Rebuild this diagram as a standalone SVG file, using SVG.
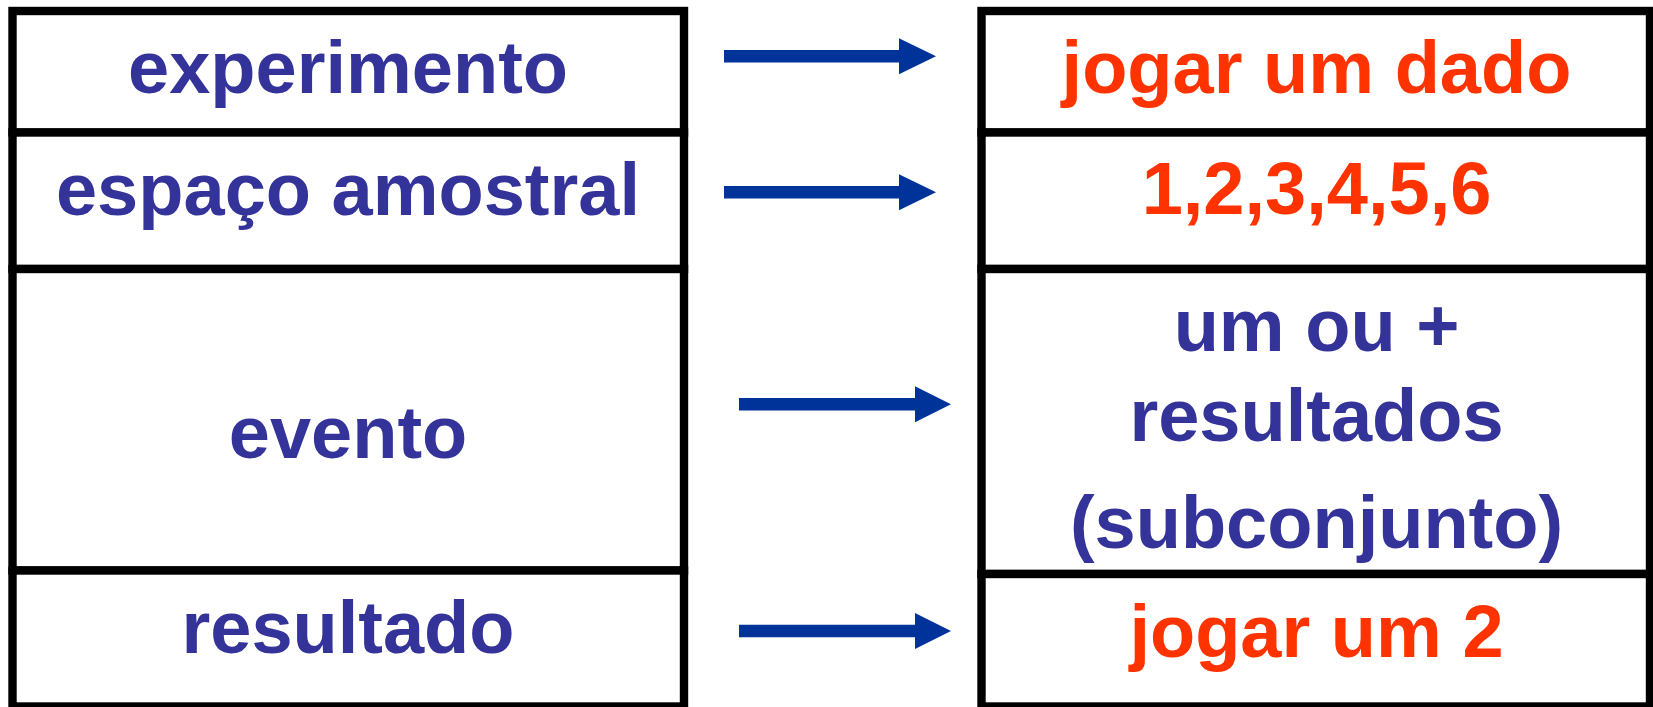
<svg xmlns="http://www.w3.org/2000/svg" width="1653" height="707" viewBox="0 0 1653 707">
<style>
.cell{fill:#ffffff;stroke:#000000;stroke-width:8.4}
.t{font-family:"Liberation Sans",Arial,sans-serif;font-weight:bold;font-size:74px;text-anchor:middle}
.blue{fill:#333399}
.red{fill:#FF3300}
.arrow{fill:#003399;stroke:none}
</style>
<rect x="0" y="0" width="1653" height="707" fill="#ffffff"/>
<g id="experimento">
<rect class="cell" x="12.5" y="11" width="671.5" height="121.5"/>
<text class="t blue" x="348" y="93.3">experimento</text>
</g>
<g id="espaco-amostral">
<rect class="cell" x="12.5" y="132.5" width="671.5" height="136.5"/>
<text class="t blue" x="348" y="214.5">espaço amostral</text>
</g>
<g id="evento">
<rect class="cell" x="12.5" y="269" width="671.5" height="301.5"/>
<text class="t blue" x="348" y="458.3">evento</text>
</g>
<g id="resultado">
<rect class="cell" x="12.5" y="570.5" width="671.5" height="136"/>
<text class="t blue" x="348" y="653.3">resultado</text>
</g>
<g id="jogar-um-dado">
<rect class="cell" x="981.5" y="11" width="668.5" height="121.5"/>
<text class="t red" x="1316.5" y="93.3">jogar um dado</text>
</g>
<g id="numeros">
<rect class="cell" x="981.5" y="132.5" width="668.5" height="136.5"/>
<text class="t red" x="1316.5" y="214.3">1,2,3,4,5,6</text>
</g>
<g id="subconjunto">
<rect class="cell" x="981.5" y="269" width="668.5" height="305"/>
<text class="t blue" x="1316.5" y="350.8">um ou +</text>
<text class="t blue" x="1316.5" y="441.3">resultados</text>
<text class="t blue" x="1316.5" y="548.3">(subconjunto)</text>
</g>
<g id="jogar-um-2">
<rect class="cell" x="981.5" y="574" width="668.5" height="132.5"/>
<text class="t red" x="1316.5" y="656.7">jogar um 2</text>
</g>
<g id="connectors">
<path class="arrow" d="M724 50.1 H899 V38.3 L936 56.3 L899 74.3 V62.5 H724 Z"/>
<path class="arrow" d="M724 186 H899 V174.2 L936 192.2 L899 210.2 V198.4 H724 Z"/>
<path class="arrow" d="M739 398.1 H915 V386.3 L951 404.3 L915 422.3 V410.5 H739 Z"/>
<path class="arrow" d="M739 624.8 H915 V613 L951 631 L915 649 V637.2 H739 Z"/>
</g>
</svg>
